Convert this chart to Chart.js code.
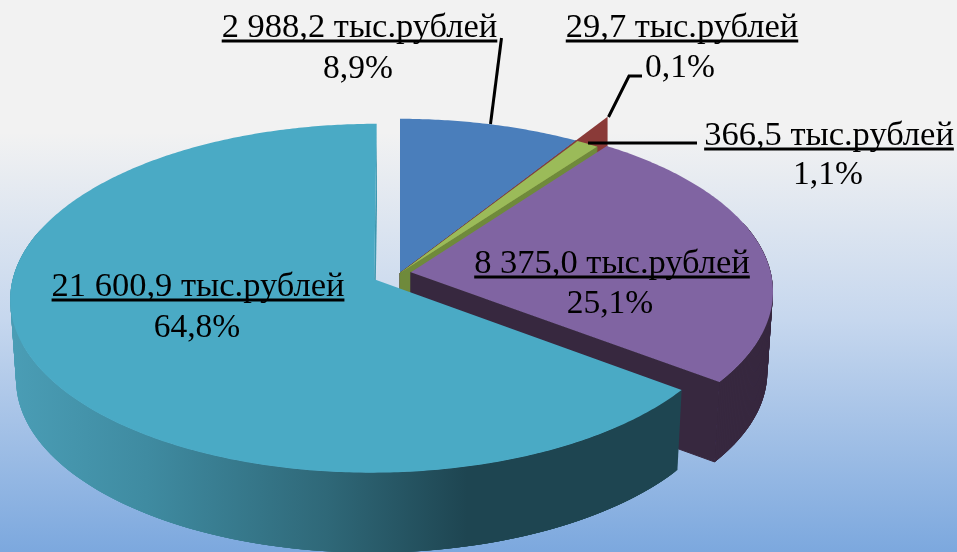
<!DOCTYPE html>
<html><head><meta charset="utf-8">
<style>html,body{margin:0;padding:0;width:957px;height:552px;overflow:hidden;background:linear-gradient(180deg,#f2f2f2 0%,#f2f2f2 24%,#c6d7ee 58%,#7ca8de 100%)}
#w{position:relative;width:957px;height:552px}</style>
<script src="https://cdn.jsdelivr.net/npm/chart.js@4/dist/chart.umd.js"></script>
</head><body><div id="w"><canvas id="c" width="957" height="552"></canvas></div>
<script>
const categories = ['2 988,2 тыс.рублей','29,7 тыс.рублей','366,5 тыс.рублей','8 375,0 тыс.рублей','21 600,9 тыс.рублей'];
const values = [2988.2, 29.7, 366.5, 8375.0, 21600.9];
const percents = ['8,9%','0,1%','1,1%','25,1%','64,8%'];
const topColors = ['#4A7EBB','#8A3A38','#9BBB59','#8064A2','#4AAAC5'];
const wallColors = ['#375E8C','#652927','#6F8A3B','#37283F','#1E4551'];
const cutColors = ['#375E8C','#652927','#6F8A3B','#37283F','#3F97AF'];
const offsets = [0,0,0,8,21];
const labelX = [359.5,682,829,612,198];
const labelY = [37,37,145,273,296];
const percentX = [358,680,828,610,197];
const percentY = [78,77,184,313,337];
const leaders = [[[501.5,38],[490.5,124]],[[642,76],[629,76],[608.5,117]],[[697,143],[588,143]]];

const RX=360, RY=171, PERSP=0.109, DEPTH=80, CONV=0.985, TIP=1.2;
function proj(el,a,r,off,mid){
  const R=el.outerRadius, cx=el.x, cy=el.y;
  const U=(r*Math.cos(a)+off*Math.cos(mid))/R, V=(r*Math.sin(a)+off*Math.sin(mid))/R;
  const d=1-PERSP*V;
  return {x:cx+RX*U/d,y:cy+RY*V/d};
}
const lower=(el,p)=>({x:el.x+(p.x-el.x)*CONV,y:p.y+DEPTH});
function poly(ctx,pts,fill,seal){ctx.beginPath();pts.forEach((p,i)=>i?ctx.lineTo(p.x,p.y):ctx.moveTo(p.x,p.y));ctx.closePath();ctx.fillStyle=fill;ctx.fill();if(seal){ctx.strokeStyle=fill;ctx.lineWidth=1;ctx.stroke();}}
function angles(s,e){const n=Math.max(2,Math.ceil((e-s)/0.01));const o=[];for(let i=0;i<=n;i++)o.push(s+(e-s)*i/n);return o;}

const pie3d={id:'pie3d',
 beforeDatasetDraw(chart){
  const ctx=chart.ctx, arcs=chart.getDatasetMeta(0).data;
  arcs.forEach((el,i)=>{
    const s=el.startAngle,e=el.endAngle,mid=(s+e)/2,off=el.options.offset||0;
    const apex=proj(el,0,0,off,mid);
    const as=angles(s,e);
    const pts=as.map(a=>proj(el,a,el.outerRadius,off,mid));
    const endP=pts[pts.length-1];
    let wall=wallColors[i];
    if(i===4){
      const g=ctx.createLinearGradient(13,0,681,0);
      g.addColorStop(0,'#4A9DB5');g.addColorStop(0.2,'#3F8BA1');g.addColorStop(0.47,'#2F6878');g.addColorStop(0.68,'#1E4551');g.addColorStop(1,'#1E4551');
      wall=g;
    }
    poly(ctx,[apex,endP,lower(el,endP),lower(el,apex)],cutColors[i],i!==4);
    // outer wall: only the part facing the viewer, as overlapping quads so no seams show
    for(let k=0;k<pts.length-1;k+=1){
      if(Math.sin(as[k])<-0.3) continue;
      const j=Math.min(k+4,pts.length-1);
      if(Math.sin(as[j])<-0.3) continue;
      poly(ctx,[pts[k],pts[j],lower(el,pts[j]),lower(el,pts[k])],wall);
    }
    if(i===1){
      const p=pts[0], t=proj(el,s,el.outerRadius*TIP,off,mid);
      poly(ctx,[p,t,{x:t.x,y:t.y+40},{x:p.x,y:p.y+30}],topColors[i]);
    }
    poly(ctx,[apex,...pts],topColors[i]);
  });
  return false;
 },
 afterDraw(chart){
  const ctx=chart.ctx;
  ctx.save();
  ctx.strokeStyle='#000';ctx.lineWidth=3;ctx.lineCap='butt';ctx.lineJoin='miter';
  leaders.forEach(l=>{ctx.beginPath();l.forEach((p,i)=>i?ctx.lineTo(p[0],p[1]):ctx.moveTo(p[0],p[1]));ctx.stroke();});
  ctx.fillStyle='#000';ctx.textAlign='center';ctx.textBaseline='alphabetic';
  categories.forEach((t,i)=>{
    ctx.font='34.5px "Liberation Serif"';
    ctx.fillText(t,labelX[i],labelY[i]);
    const w=ctx.measureText(t).width;
    ctx.fillRect(labelX[i]-w/2,labelY[i]+2.5,w,3);
    ctx.font='33.5px "Liberation Serif"';
    ctx.fillText(percents[i],percentX[i],percentY[i]);
  });
  ctx.restore();
 }};

new Chart(document.getElementById('c'),{
 type:'pie',
 data:{labels:categories,datasets:[{data:values,backgroundColor:topColors,offset:offsets,borderWidth:0}]},
 options:{responsive:false,animation:false,
  layout:{padding:{left:0,right:157,top:0,bottom:6}},
  plugins:{legend:{display:false},tooltip:{enabled:false}}},
 plugins:[pie3d]
});
</script></body></html>
